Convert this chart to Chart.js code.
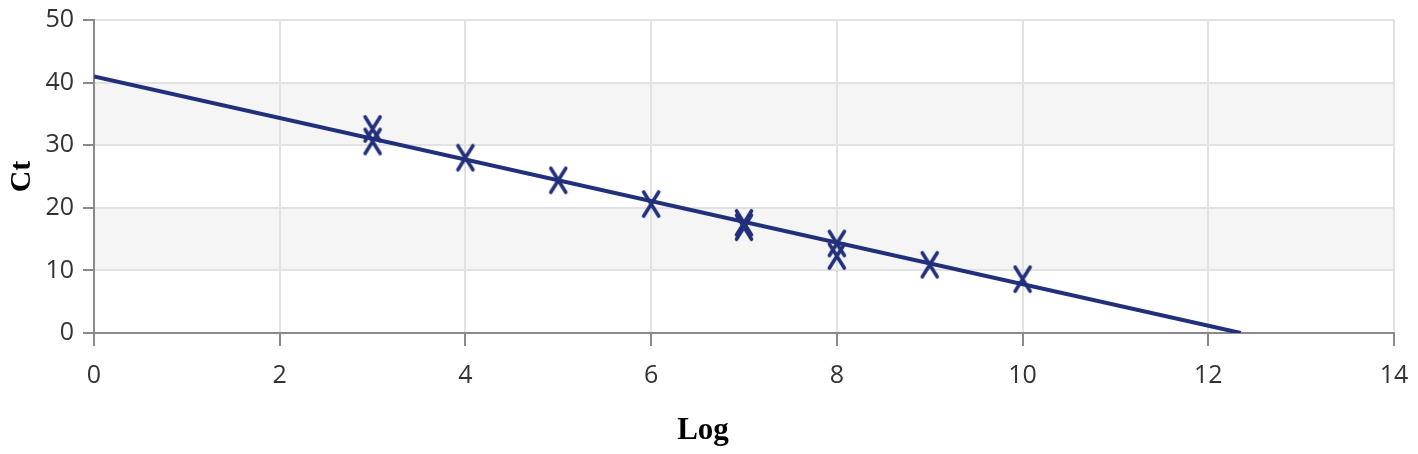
<!DOCTYPE html>
<html>
<head>
<meta charset="utf-8">
<script src="https://cdn.jsdelivr.net/npm/chart.js@4/dist/chart.umd.min.js"></script>
<style>
  html, body { margin: 0; padding: 0; background: #ffffff; }
  #wrap { width: 1418px; height: 454px; }
</style>
</head>
<body>
<div id="wrap"><canvas id="ctChart" width="1418" height="454"></canvas></div>
<script>
// measured points (Log, Ct)
const logValues = [3, 3, 4, 5, 6, 7, 7, 8, 8, 9, 10];
const ctValues = [32.6, 30.6, 28.0, 24.4, 20.6, 17.6, 16.9, 14.3, 12.3, 10.9, 8.6];

// fitted standard curve endpoints
const fitLog = [0, 12.35];
const fitCt = [41, 0];

// axis ticks
const xTicks = [0, 2, 4, 6, 8, 10, 12, 14];
const yTicks = [0, 10, 20, 30, 40, 50];

// shaded horizontal bands
const bands = [[10, 20], [30, 40]];

const navy = "#22307c";
const tickFont = { family: "'Open Sans', sans-serif", size: 25 };

// tall "x" marker like the original
function makeMarker() {
  const c = document.createElement("canvas");
  c.width = 22;
  c.height = 30;
  const ctx = c.getContext("2d");
  ctx.strokeStyle = navy;
  ctx.lineWidth = 3.6;
  ctx.lineCap = "round";
  ctx.beginPath();
  ctx.moveTo(3.5, 3);
  ctx.lineTo(18.5, 27);
  ctx.moveTo(18.5, 3);
  ctx.lineTo(3.5, 27);
  ctx.stroke();
  return c;
}

const bandPlugin = {
  id: "bands",
  beforeDraw(chart) {
    const { ctx, chartArea, scales } = chart;
    ctx.save();
    ctx.fillStyle = "#f5f5f5";
    bands.forEach(([lo, hi]) => {
      const top = scales.y.getPixelForValue(hi);
      const bottom = scales.y.getPixelForValue(lo);
      ctx.fillRect(chartArea.left, top, chartArea.right - chartArea.left, bottom - top);
    });
    ctx.restore();
  }
};

// x title sits a bit left of centre in the original
const xTitlePlugin = {
  id: "xTitle",
  afterDraw(chart) {
    const { ctx } = chart;
    ctx.save();
    ctx.fillStyle = "#000000";
    ctx.font = "bold 31px 'Liberation Serif', serif";
    ctx.textAlign = "center";
    ctx.textBaseline = "alphabetic";
    ctx.fillText("Log", 703, 439);
    ctx.restore();
  }
};

new Chart(document.getElementById("ctChart"), {
  type: "scatter",
  data: {
    datasets: [
      {
        label: "Fit",
        data: fitLog.map((x, i) => ({ x, y: fitCt[i] })),
        showLine: true,
        borderColor: navy,
        borderWidth: 4,
        pointRadius: 0,
        order: 2
      },
      {
        label: "Ct",
        data: logValues.map((x, i) => ({ x, y: ctValues[i] })),
        pointStyle: makeMarker(),
        pointRadius: 10,
        borderColor: navy,
        backgroundColor: navy,
        order: 1
      }
    ]
  },
  options: {
    responsive: false,
    animation: false,
    layout: {
      padding: { top: 20, right: 24, bottom: 0, left: 0 }
    },
    plugins: {
      legend: { display: false },
      tooltip: { enabled: false }
    },
    scales: {
      x: {
        type: "linear",
        min: 0,
        max: 14,
        afterBuildTicks(scale) {
          scale.ticks = xTicks.map((v) => ({ value: v }));
        },
        afterFit(scale) {
          scale.height = 121;
          scale.paddingLeft = 0;
          scale.paddingRight = 0;
        },
        border: { color: "#8a8a8a", width: 2 },
        grid: {
          color: "#e2e2e2",
          lineWidth: 2,
          tickColor: "#8a8a8a",
          tickLength: 13
        },
        ticks: {
          color: "#333333",
          padding: 15,
          font: tickFont
        }
      },
      y: {
        type: "linear",
        min: 0,
        max: 50,
        afterBuildTicks(scale) {
          scale.ticks = yTicks.map((v) => ({ value: v }));
        },
        afterFit(scale) {
          scale.width = 94;
          scale.paddingTop = 0;
          scale.paddingBottom = 0;
        },
        border: { color: "#8a8a8a", width: 2 },
        grid: {
          color: "#e2e2e2",
          lineWidth: 2,
          tickColor: "#8a8a8a",
          tickLength: 11
        },
        ticks: {
          color: "#333333",
          padding: 9,
          font: tickFont
        },
        title: {
          display: true,
          text: "Ct",
          color: "#000000",
          padding: { top: 4, bottom: 0 },
          font: { family: "'Liberation Serif', serif", size: 30, weight: "bold" }
        }
      }
    }
  },
  plugins: [bandPlugin, xTitlePlugin]
});
</script>
</body>
</html>
